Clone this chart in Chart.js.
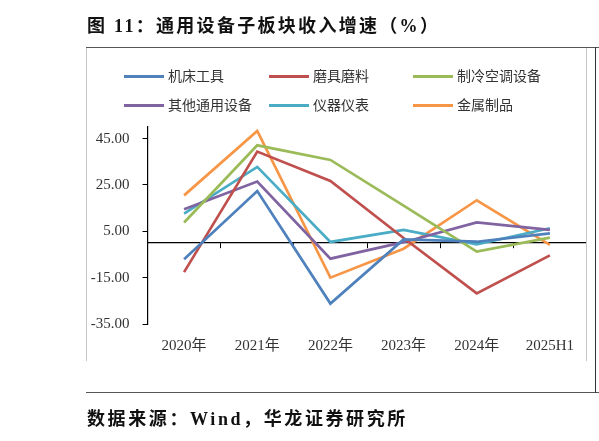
<!DOCTYPE html>
<html>
<head>
<meta charset="utf-8">
<script src="https://cdn.jsdelivr.net/npm/chart.js@4.4.1/dist/chart.umd.min.js"></script>
<style>
  body { margin: 0; background: #fff; width: 599px; height: 441px; overflow: hidden; position: relative; }
  #wrap { position: absolute; left: 0; top: 0; width: 599px; height: 441px; }
  .txt { position: absolute; white-space: nowrap; font-family: "Liberation Serif", "Noto Sans CJK SC", serif; }
  #title { left: 87px; top: 11px; font-size: 18px; font-weight: bold; color: #111; letter-spacing: 2.3px; }
  #source { left: 87px; top: 404px; font-size: 18px; font-weight: bold; color: #111; letter-spacing: 2.6px; }
  .hl { position: absolute; height: 0; }
  .vl { position: absolute; width: 0; }
  .leg { position: absolute; font-family: "Noto Sans CJK SC", sans-serif; font-size: 14px; color: #333; white-space: nowrap; }
  .leg i { display: inline-block; width: 40px; height: 3px; vertical-align: middle; margin-right: 4px; margin-top: -2px; }
</style>
</head>
<body>
<div id="wrap"><canvas id="chart" width="599" height="441"></canvas></div>

<div class="txt" id="title">图 11：通用设备子板块收入增速（%）</div>
<div class="txt" id="source">数据来源：Wind，华龙证券研究所</div>

<div class="hl" style="left:86px; top:47px; width:513px; border-top:1.5px solid #555;"></div>
<div class="hl" style="left:86px; top:392px; width:513px; border-top:1.5px solid #555;"></div>
<div class="vl" style="left:86px; top:48px; height:313px; border-left:1px solid #c8c8c8;"></div>
<div class="vl" style="left:586px; top:48px; height:313px; border-left:1px solid #c8c8c8;"></div>
<div class="vl" style="left:595px; top:47px; height:346px; border-left:1.5px solid #333;"></div>
<div id="legend"></div>

<script>
// categories and series (revenue growth, %)
const years = ["2020年", "2021年", "2022年", "2023年", "2024年", "2025H1"];
const yTicks = [-35, -15, 5, 25, 45];

const jichuang = [-7.1, 22.4, -26.2, 1.5, 0.5, 4.1];     // 机床工具
const moju = [-12.6, 39.4, 26.7, 2.1, -21.8, -5.4];      // 磨具磨料
const zhileng = [8.8, 42.1, 35.8, 16.1, -3.8, 2.3];      // 制冷空调设备
const qita = [14.5, 26.5, -6.8, 0.3, 8.8, 5.6];          // 其他通用设备
const yiqi = [12.6, 32.8, 0.4, 5.6, -0.6, 6.3];          // 仪器仪表
const jinshu = [20.5, 48.3, -15.0, -2.5, 18.4, -0.9];    // 金属制品

const seriesNames = ["机床工具", "磨具磨料", "制冷空调设备", "其他通用设备", "仪器仪表", "金属制品"];
const seriesData = [jichuang, moju, zhileng, qita, yiqi, jinshu];
const seriesColors = ["#4F81BD", "#C0504D", "#9BBB59", "#8064A2", "#4BACC6", "#F79646"];

// legend, 3 columns x 2 rows like the source
const legX = [124, 269, 413];
const legY = [76, 105];
const legendBox = document.getElementById("legend");
seriesNames.forEach((name, i) => {
  const d = document.createElement("div");
  d.className = "leg";
  d.style.left = legX[i % 3] + "px";
  d.style.top = (legY[Math.floor(i / 3)] - 11) + "px";
  d.innerHTML = '<i style="background:' + seriesColors[i] + '"></i>' + name;
  legendBox.appendChild(d);
});

const tickFont = { family: '"Liberation Serif", "Noto Sans CJK SC", serif', size: 15 };

new Chart(document.getElementById("chart"), {
  type: "line",
  data: {
    labels: years,
    datasets: seriesNames.map((name, i) => ({
      label: name,
      data: seriesData[i],
      borderColor: seriesColors[i],
      backgroundColor: seriesColors[i],
      borderWidth: 2.7,
      pointRadius: 0,
      tension: 0,
      xAxisID: "x",
    })),
  },
  options: {
    responsive: false,
    animation: false,
    devicePixelRatio: 1,
    layout: { padding: { top: 127, right: 12.5, bottom: 0, left: 0 } },
    plugins: { legend: { display: false }, tooltip: { enabled: false } },
    scales: {
      x: {
        type: "category",
        offset: true,
        border: { display: false },
        grid: { display: false, drawTicks: false },
        ticks: { color: "#333", font: tickFont, padding: 13, maxRotation: 0 },
        afterFit: (s) => { s.height = 441 - 324; },
      },
      xZero: {
        type: "category",
        labels: years,
        offset: true,
        position: { y: 0 },
        border: { display: true, color: "#000", width: 1.2 },
        grid: { display: true, offset: true, drawOnChartArea: false, drawTicks: true, tickLength: 5, color: "#000", lineWidth: 1 },
        ticks: { display: false },
      },
      y: {
        min: -35,
        max: 50,
        afterBuildTicks: (s) => { s.ticks = yTicks.map((v) => ({ value: v })); },
        afterFit: (s) => { s.width = 147.5; },
        border: { display: true, color: "#000", width: 1.2 },
        grid: { display: true, drawOnChartArea: false, drawTicks: true, tickLength: 5, color: "#000" },
        ticks: { color: "#333", font: tickFont, padding: 13, callback: (v) => Number(v).toFixed(2) },
      },
    },
  },
});
</script>
</body>
</html>
